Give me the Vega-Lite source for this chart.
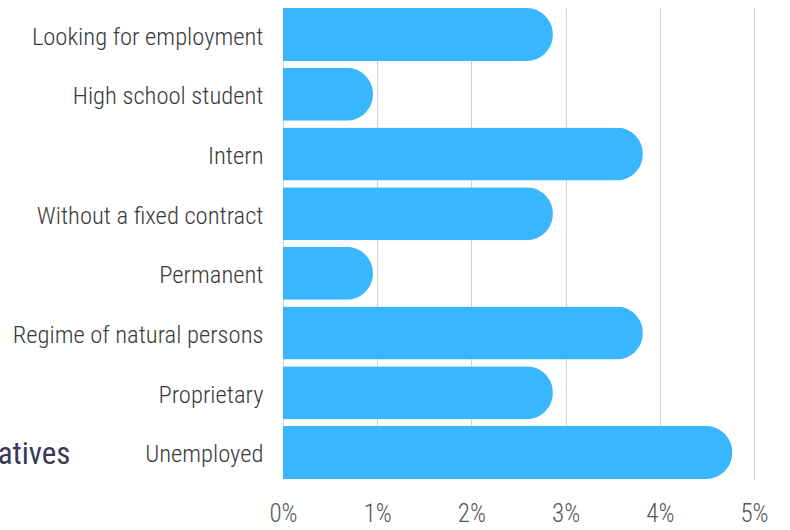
{
  "$schema": "https://vega.github.io/schema/vega-lite/v6.json",
  "width": 471,
  "height": 471,
  "autosize": "none",
  "padding": {"left": 283, "top": 8, "right": 36, "bottom": 51},
  "background": "white",
  "data": {"values": [
    {"category": "Looking for employment", "share": 0.02865},
    {"category": "High school student", "share": 0.00955},
    {"category": "Intern", "share": 0.03820},
    {"category": "Without a fixed contract", "share": 0.02865},
    {"category": "Permanent", "share": 0.00955},
    {"category": "Regime of natural persons", "share": 0.03820},
    {"category": "Proprietary", "share": 0.02865},
    {"category": "Unemployed", "share": 0.04770}
  ]},
  "mark": {"type": "bar", "color": "#38B6FF", "cornerRadiusEnd": 26.5},
  "encoding": {
    "y": {
      "field": "category", "type": "nominal", "sort": null,
      "scale": {"paddingInner": 0.112, "paddingOuter": 0},
      "axis": {
        "title": "atives",
        "titleAngle": 0, "titleAlign": "right", "titleBaseline": "alphabetic",
        "titleX": -213, "titleY": 455,
        "titleFont": "Roboto Condensed, Liberation Sans Narrow, DejaVu Sans Condensed",
        "titleFontSize": 31, "titleFontWeight": 400, "titleColor": "#3B3857",
        "domain": false, "ticks": false, "labelPadding": 20, "labelOffset": 3,
        "labelFont": "Roboto Condensed, Liberation Sans Narrow, DejaVu Sans Condensed",
        "labelFontWeight": 300, "labelFontSize": 24.6, "labelColor": "#3A3A3A",
        "labelLimit": 400
      }
    },
    "x": {
      "field": "share", "type": "quantitative",
      "scale": {"domain": [0, 0.05], "nice": false},
      "axis": {
        "title": null, "format": ".0%", "values": [0, 0.01, 0.02, 0.03, 0.04, 0.05],
        "labelOverlap": false, "labelFlush": false,
        "domain": false, "ticks": false, "labelPadding": 22,
        "labelFont": "Roboto Condensed, Liberation Sans Narrow, DejaVu Sans Condensed",
        "labelFontWeight": 300, "labelFontSize": 25, "labelColor": "#555555",
        "gridColor": "#D0D0D0", "gridWidth": 1, "gridOpacity": 1
      }
    }
  },
  "config": {"view": {"stroke": null}}
}
